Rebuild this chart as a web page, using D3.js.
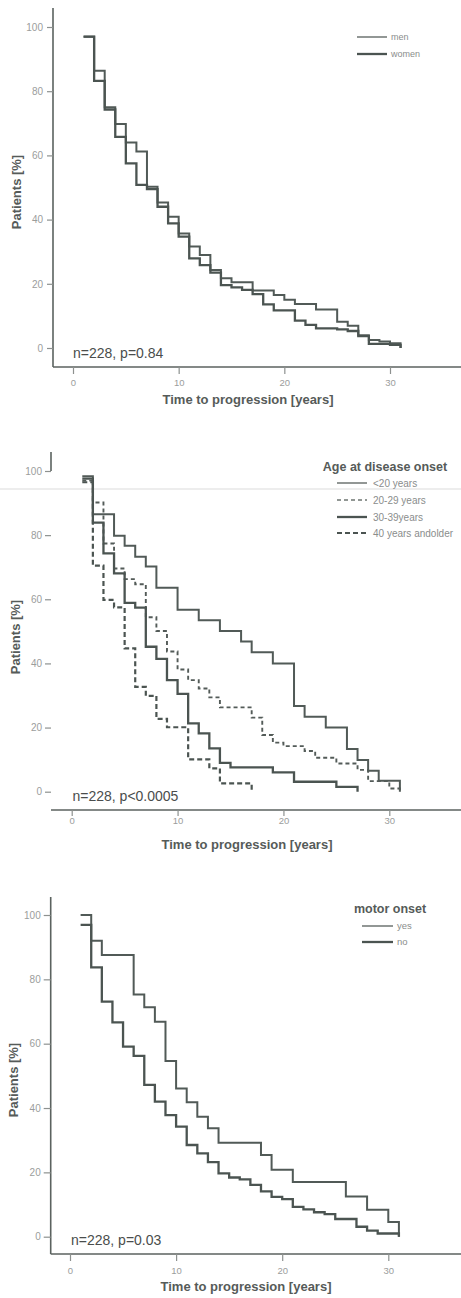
<!DOCTYPE html>
<html>
<head>
<meta charset="utf-8">
<script src="https://cdn.jsdelivr.net/npm/d3@7"></script>
<style>
  body { margin: 0; background: #fff; }
  svg { display: block; }
  text { font-family: "Liberation Sans", Arial, sans-serif; }
</style>
</head>
<body>
<svg id="chart" width="461" height="1298"></svg>
<script>
// ---- Kaplan-Meier estimates: time to progression (years) vs. patients still free of progression (%) ----
const yTicks = [0, 20, 40, 60, 80, 100];
const xTicks = [0, 10, 20, 30];
const xAxisLabel = "Time to progression [years]";
const yAxisLabel = "Patients [%]";

// Panel 1: sex
const sexNames = ["men", "women"];
const menTimes   = [1, 2, 3, 4, 5, 6, 7, 8, 9, 10, 11, 12, 13, 14, 15, 16, 17, 18, 19, 20, 21, 22, 23, 24, 25, 26, 27, 28, 29, 30, 31];
const menSurv    = [97, 86.4, 75.0, 69.8, 64.0, 61.2, 50.2, 45.3, 40.9, 35.7, 31.6, 29.0, 24.3, 21.7, 20.5, 20.5, 17.9, 17.9, 16.5, 15.0, 13.7, 13.7, 12.0, 12.0, 8.2, 6.9, 4.0, 2.5, 2.0, 1.5, 0];
const womenTimes = [1, 2, 3, 4, 5, 6, 7, 8, 9, 10, 11, 12, 13, 14, 15, 16, 17, 18, 19, 20, 21, 22, 23, 24, 25, 26, 27, 28, 29, 30, 31];
const womenSurv  = [97, 83.2, 74.3, 65.8, 57.5, 50.8, 49.5, 44.0, 38.8, 34.7, 27.9, 25.8, 23.5, 19.6, 18.9, 18.1, 16.8, 13.6, 11.7, 11.7, 8.5, 7.2, 6.1, 6.1, 5.8, 5.3, 3.7, 1.3, 1.3, 1.0, 0];
const sexStat = "n=228, p=0.84";

// Panel 2: age at disease onset
const ageTitle = "Age at disease onset";
const ageNames = ["<20 years", "20-29 years", "30-39years", "40 years andolder"];
const ageU20Times  = [1, 2, 4, 5, 6, 7, 8, 10, 12, 14, 16, 17, 19, 21, 22, 24, 26, 27, 28, 29, 31];
const ageU20Surv   = [98.4, 86.5, 79.8, 76.7, 73.3, 70.2, 63.6, 56.7, 53.5, 50.1, 46.8, 43.5, 40.0, 26.7, 23.4, 20.0, 13.3, 9.9, 6.5, 3.4, 0];
const age20Times   = [1, 2, 3, 4, 5, 6, 7, 8, 9, 10, 11, 12, 13, 14, 17, 18, 19, 20, 22, 23, 25, 27, 28, 30, 31];
const age20Surv    = [97.0, 90.2, 77.4, 69.6, 66.3, 64.7, 54.4, 50.1, 43.7, 38.1, 34.8, 32.2, 29.4, 26.3, 23.1, 17.7, 15.3, 14.2, 12.7, 10.6, 8.8, 6.8, 3.3, 1.0, 0];
const age30Times   = [1, 2, 3, 4, 5, 6, 7, 8, 9, 10, 11, 12, 13, 14, 15, 19, 21, 25, 27];
const age30Surv    = [97.6, 83.9, 74.3, 68.1, 58.9, 57.4, 45.2, 41.4, 34.8, 30.5, 21.3, 18.2, 13.5, 9.0, 7.6, 6.0, 3.1, 1.5, 0];
const age40Times   = [1, 2, 3, 4, 5, 6, 7, 8, 9, 11, 13, 14, 17];
const age40Surv    = [96.5, 70.5, 59.8, 57.5, 44.7, 32.7, 29.9, 22.7, 20.1, 10.1, 7.3, 2.6, 0];
const ageStat = "n=228, p<0.0005";

// Panel 3: motor onset
const motorTitle = "motor onset";
const motorNames = ["yes", "no"];
const motorYesTimes = [1, 2, 3, 6, 7, 8, 9, 10, 11, 12, 13, 14, 18, 19, 21, 26, 28, 30, 31];
const motorYesSurv  = [100, 92.0, 87.6, 75.3, 71.3, 66.8, 54.6, 46.1, 41.8, 37.3, 33.7, 29.2, 25.4, 20.8, 17.0, 12.5, 8.4, 4.6, 0];
const motorNoTimes  = [1, 2, 3, 4, 5, 6, 7, 8, 9, 10, 11, 12, 13, 14, 15, 16, 17, 18, 19, 20, 21, 22, 23, 24, 25, 27, 28, 29, 31];
const motorNoSurv   = [96.9, 83.7, 73.1, 66.6, 59.1, 56.2, 47.2, 42.0, 37.8, 34.2, 28.5, 25.9, 23.2, 19.7, 18.4, 17.8, 16.1, 14.1, 12.4, 11.7, 9.3, 8.5, 7.6, 7.0, 5.5, 3.1, 1.9, 1.0, 0];
const motorStat = "n=228, p=0.03";

// ---- styling ----
const INK = "#4b5451";
const AXIS = "#5b625f";
const TICK_TEXT = "#9b9d9c";
const TITLE_TEXT = "#565b59";
const LEGEND_TEXT = "#8a8d8c";

// curve styles: stroke in the plot, and a lighter/thinner variant for the legend key
const styles = {
  thin:   { w: 2.0, dash: null,  color: "#515a57", lw: 1.5, lcolor: "#6e7572" },
  thick:  { w: 2.3, dash: null,  color: INK,       lw: 2.3, lcolor: INK },
  dashT:  { w: 1.9, dash: "4,3", color: "#535b58", lw: 1.5, lcolor: "#6e7572" },
  dashK:  { w: 2.2, dash: "5,3", color: INK,       lw: 2.2, lcolor: INK }
};

const pairs = (ts, vs) => ts.map((t, i) => ({ t, v: vs[i] }));

const panels = [
  {
    xr: [73, 390], yr: [348, 27], axisX: 53, axisY: 367, yTop: 8, yAxisFull: true,
    yTickSize: 6, yPad: 4, xTickSize: 7, xPad: 5,
    yTitle: [16, 192], xTitle: [248, 404], stat: [73, 358], statText: sexStat,
    series: [
      { name: sexNames[0], data: pairs(menTimes, menSurv), st: "thin" },
      { name: sexNames[1], data: pairs(womenTimes, womenSurv), st: "thick" }
    ],
    legend: { title: null, x1: 357, x2: 387, ys: [37, 54], tx: 391, fs: 9 }
  },
  {
    xr: [71.7, 389.3], yr: [791.7, 471], axisX: 51, axisY: 810, yTop: 452, yAxisFull: false,
    yTickSize: 6, yPad: 3, xTickSize: 6, xPad: 1.5,
    yTitle: [15, 637], xTitle: [247, 849], stat: [72.5, 801], statText: ageStat,
    series: [
      { name: ageNames[0], data: pairs(ageU20Times, ageU20Surv), st: "thin" },
      { name: ageNames[1], data: pairs(age20Times, age20Surv), st: "dashT" },
      { name: ageNames[2], data: pairs(age30Times, age30Surv), st: "thick" },
      { name: ageNames[3], data: pairs(age40Times, age40Surv), st: "dashK" }
    ],
    legend: { title: ageTitle, titleX: 385, titleY: 471, x1: 337, x2: 367, ys: [483, 500, 517, 533], tx: 373, fs: 10 }
  },
  {
    xr: [70, 388.3], yr: [1236.7, 915], axisX: 50.7, axisY: 1254, yTop: 897, yAxisFull: true,
    yTickSize: 7, yPad: 3, xTickSize: 7, xPad: 6,
    yTitle: [13, 1080], xTitle: [246, 1291], stat: [71, 1245], statText: motorStat,
    series: [
      { name: motorNames[0], data: pairs(motorYesTimes, motorYesSurv), st: "thin" },
      { name: motorNames[1], data: pairs(motorNoTimes, motorNoSurv), st: "thick" }
    ],
    legend: { title: motorTitle, titleX: 390, titleY: 913, x1: 362, x2: 393, ys: [926, 942], tx: 397, fs: 9.5 }
  }
];

const svg = d3.select("#chart");
svg.append("rect").attr("width", 461).attr("height", 1298).attr("fill", "#fff");

// faint scan line across the middle panel
svg.append("line")
  .attr("x1", 0).attr("x2", 461).attr("y1", 489).attr("y2", 489)
  .attr("stroke", "#ededed").attr("stroke-width", 2);

panels.forEach(p => {
  const g = svg.append("g");
  const x = d3.scaleLinear().domain([0, 30]).range(p.xr);
  const y = d3.scaleLinear().domain([0, 100]).range(p.yr);

  // axis lines
  g.append("line")
    .attr("x1", p.axisX).attr("x2", 461).attr("y1", p.axisY).attr("y2", p.axisY)
    .attr("stroke", AXIS).attr("stroke-width", 1.6);
  g.append("line")
    .attr("x1", p.axisX).attr("x2", p.axisX)
    .attr("y1", p.yTop).attr("y2", p.yAxisFull ? p.axisY : y(100))
    .attr("stroke", AXIS).attr("stroke-width", 1.6);

  // y axis ticks
  const ya = g.append("g").attr("transform", `translate(${p.axisX},0)`)
    .call(d3.axisLeft(y).tickValues(yTicks).tickSize(p.yTickSize).tickPadding(p.yPad));
  ya.select(".domain").remove();
  ya.selectAll("line").attr("stroke", "#8d918f").attr("stroke-width", 1.2);
  ya.selectAll("text").attr("fill", TICK_TEXT).attr("font-size", 10)
    .attr("font-family", "'Liberation Sans', Arial, sans-serif");

  // x axis ticks
  const xa = g.append("g").attr("transform", `translate(0,${p.axisY})`)
    .call(d3.axisBottom(x).tickValues(xTicks).tickSize(p.xTickSize).tickPadding(p.xPad));
  xa.select(".domain").remove();
  xa.selectAll("line").attr("stroke", "#8d918f").attr("stroke-width", 1.2);
  xa.selectAll("text").attr("fill", TICK_TEXT).attr("font-size", 9.5)
    .attr("font-family", "'Liberation Sans', Arial, sans-serif");

  // axis titles
  g.append("text")
    .attr("x", p.xTitle[0]).attr("y", p.xTitle[1])
    .attr("text-anchor", "middle").attr("font-size", 13).attr("font-weight", "bold")
    .attr("fill", TITLE_TEXT).text(xAxisLabel);
  g.append("text")
    .attr("transform", `translate(${p.yTitle[0]},${p.yTitle[1]}) rotate(-90)`)
    .attr("text-anchor", "middle").attr("dy", "0.35em")
    .attr("font-size", 13).attr("font-weight", "bold")
    .attr("fill", TITLE_TEXT).text(yAxisLabel);

  // survival step curves
  const line = d3.line().x(d => x(d.t)).y(d => y(d.v)).curve(d3.curveStepAfter);
  p.series.forEach(s => {
    const st = styles[s.st];
    g.append("path")
      .datum(s.data)
      .attr("d", line)
      .attr("fill", "none")
      .attr("stroke", st.color)
      .attr("stroke-width", st.w)
      .attr("stroke-dasharray", st.dash)
      .attr("stroke-linejoin", "miter");
  });

  // statistics note
  g.append("text")
    .attr("x", p.stat[0]).attr("y", p.stat[1])
    .attr("font-size", 14).attr("fill", "#4a4d4c").text(p.statText);

  // legend
  const L = p.legend;
  if (L.title) {
    g.append("text")
      .attr("x", L.titleX).attr("y", L.titleY)
      .attr("text-anchor", "middle").attr("font-size", 12.5).attr("font-weight", "bold")
      .attr("fill", TITLE_TEXT).text(L.title);
  }
  p.series.forEach((s, i) => {
    const st = styles[s.st];
    g.append("line")
      .attr("x1", L.x1).attr("x2", L.x2).attr("y1", L.ys[i]).attr("y2", L.ys[i])
      .attr("stroke", st.lcolor).attr("stroke-width", st.lw)
      .attr("stroke-dasharray", st.dash);
    g.append("text")
      .attr("x", L.tx).attr("y", L.ys[i]).attr("dy", "0.35em")
      .attr("font-size", L.fs).attr("fill", LEGEND_TEXT).text(s.name);
  });
});
</script>
</body>
</html>
